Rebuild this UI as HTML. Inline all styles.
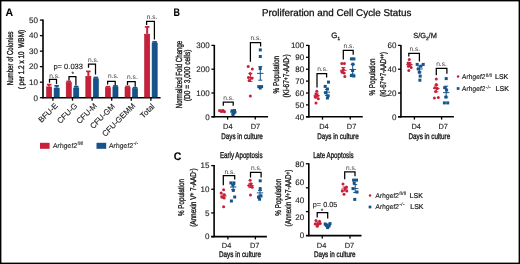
<!DOCTYPE html>
<html><head><meta charset="utf-8"><style>
html,body{margin:0;padding:0;background:#fff;}
svg{display:block;will-change:transform;}
text{font-family:"Liberation Sans", sans-serif;stroke:#1a1a1a;stroke-width:0.12px;paint-order:stroke;text-rendering:geometricPrecision;}
</style></head><body>
<svg width="520" height="264" viewBox="0 0 520 264">
<rect width="520" height="264" fill="#fff"/>
<text x="5.5" y="16.3" font-size="11" font-weight="bold" fill="#000" textLength="7.6" lengthAdjust="spacingAndGlyphs">A</text>
<line x1="43.0" y1="19.6" x2="43.0" y2="98.3" stroke="#000" stroke-width="1.6"/>
<line x1="42.4" y1="97.7" x2="160.6" y2="97.7" stroke="#000" stroke-width="1.6"/>
<line x1="39.9" y1="97.7" x2="43.0" y2="97.7" stroke="#000" stroke-width="1.3"/>
<text x="38.0" y="100.5" font-size="8.0" text-anchor="end" font-weight="normal" font-style="normal" fill="#1a1a1a" >0</text>
<line x1="39.9" y1="82.18" x2="43.0" y2="82.18" stroke="#000" stroke-width="1.3"/>
<text x="38.0" y="84.98" font-size="8.0" text-anchor="end" font-weight="normal" font-style="normal" fill="#1a1a1a" >10</text>
<line x1="39.9" y1="66.66" x2="43.0" y2="66.66" stroke="#000" stroke-width="1.3"/>
<text x="38.0" y="69.46" font-size="8.0" text-anchor="end" font-weight="normal" font-style="normal" fill="#1a1a1a" >20</text>
<line x1="39.9" y1="51.14" x2="43.0" y2="51.14" stroke="#000" stroke-width="1.3"/>
<text x="38.0" y="53.94" font-size="8.0" text-anchor="end" font-weight="normal" font-style="normal" fill="#1a1a1a" >30</text>
<line x1="39.9" y1="35.620000000000005" x2="43.0" y2="35.620000000000005" stroke="#000" stroke-width="1.3"/>
<text x="38.0" y="38.42" font-size="8.0" text-anchor="end" font-weight="normal" font-style="normal" fill="#1a1a1a" >40</text>
<line x1="39.9" y1="20.10000000000001" x2="43.0" y2="20.10000000000001" stroke="#000" stroke-width="1.3"/>
<text x="38.0" y="22.9" font-size="8.0" text-anchor="end" font-weight="normal" font-style="normal" fill="#1a1a1a" >50</text>
<line x1="52.9" y1="97.7" x2="52.9" y2="100.7" stroke="#000" stroke-width="1.3"/>
<line x1="72.5" y1="97.7" x2="72.5" y2="100.7" stroke="#000" stroke-width="1.3"/>
<line x1="92.1" y1="97.7" x2="92.1" y2="100.7" stroke="#000" stroke-width="1.3"/>
<line x1="111.7" y1="97.7" x2="111.7" y2="100.7" stroke="#000" stroke-width="1.3"/>
<line x1="131.3" y1="97.7" x2="131.3" y2="100.7" stroke="#000" stroke-width="1.3"/>
<line x1="150.9" y1="97.7" x2="150.9" y2="100.7" stroke="#000" stroke-width="1.3"/>
<rect x="46.60" y="86.90" width="5.10" height="10.20" fill="#c8203a" stroke="#b01a30" stroke-width="0.6"/>
<line x1="49.15" y1="84.6" x2="49.15" y2="86.6" stroke="#c8203a" stroke-width="2.0"/>
<line x1="46.85" y1="84.6" x2="51.449999999999996" y2="84.6" stroke="#c8203a" stroke-width="1.7"/>
<rect x="54.10" y="88.00" width="5.10" height="9.10" fill="#15538a" stroke="#0f4478" stroke-width="0.6"/>
<line x1="56.65" y1="85.8" x2="56.65" y2="87.7" stroke="#15538a" stroke-width="2.0"/>
<line x1="54.35" y1="85.8" x2="58.949999999999996" y2="85.8" stroke="#15538a" stroke-width="1.7"/>
<rect x="66.20" y="82.50" width="5.10" height="14.60" fill="#c8203a" stroke="#b01a30" stroke-width="0.6"/>
<line x1="68.75" y1="81.4" x2="68.75" y2="82.2" stroke="#c8203a" stroke-width="2.0"/>
<line x1="66.45" y1="81.4" x2="71.05" y2="81.4" stroke="#c8203a" stroke-width="1.7"/>
<rect x="73.70" y="87.90" width="5.10" height="9.20" fill="#15538a" stroke="#0f4478" stroke-width="0.6"/>
<line x1="76.25" y1="86.6" x2="76.25" y2="87.6" stroke="#15538a" stroke-width="2.0"/>
<line x1="73.95" y1="86.6" x2="78.55" y2="86.6" stroke="#15538a" stroke-width="1.7"/>
<rect x="85.80" y="76.30" width="5.10" height="20.80" fill="#c8203a" stroke="#b01a30" stroke-width="0.6"/>
<line x1="88.35" y1="71.4" x2="88.35" y2="76.0" stroke="#c8203a" stroke-width="2.0"/>
<line x1="86.05" y1="71.4" x2="90.64999999999999" y2="71.4" stroke="#c8203a" stroke-width="1.7"/>
<rect x="93.30" y="78.70" width="5.10" height="18.40" fill="#15538a" stroke="#0f4478" stroke-width="0.6"/>
<line x1="95.85" y1="77.5" x2="95.85" y2="78.4" stroke="#15538a" stroke-width="2.0"/>
<line x1="93.55" y1="77.5" x2="98.14999999999999" y2="77.5" stroke="#15538a" stroke-width="1.7"/>
<rect x="105.40" y="87.70" width="5.10" height="9.40" fill="#c8203a" stroke="#b01a30" stroke-width="0.6"/>
<line x1="107.95" y1="86.7" x2="107.95" y2="87.4" stroke="#c8203a" stroke-width="2.0"/>
<line x1="105.65" y1="86.7" x2="110.25" y2="86.7" stroke="#c8203a" stroke-width="1.7"/>
<rect x="112.90" y="86.80" width="5.10" height="10.30" fill="#15538a" stroke="#0f4478" stroke-width="0.6"/>
<line x1="115.45" y1="85.9" x2="115.45" y2="86.5" stroke="#15538a" stroke-width="2.0"/>
<line x1="113.15" y1="85.9" x2="117.75" y2="85.9" stroke="#15538a" stroke-width="1.7"/>
<rect x="125.00" y="87.30" width="5.10" height="9.80" fill="#c8203a" stroke="#b01a30" stroke-width="0.6"/>
<line x1="127.55000000000001" y1="86.4" x2="127.55000000000001" y2="87.0" stroke="#c8203a" stroke-width="2.0"/>
<line x1="125.25000000000001" y1="86.4" x2="129.85000000000002" y2="86.4" stroke="#c8203a" stroke-width="1.7"/>
<rect x="132.50" y="88.70" width="5.10" height="8.40" fill="#15538a" stroke="#0f4478" stroke-width="0.6"/>
<line x1="135.05" y1="87.7" x2="135.05" y2="88.4" stroke="#15538a" stroke-width="2.0"/>
<line x1="132.75" y1="87.7" x2="137.35000000000002" y2="87.7" stroke="#15538a" stroke-width="1.7"/>
<rect x="144.60" y="34.20" width="5.10" height="62.90" fill="#c8203a" stroke="#b01a30" stroke-width="0.6"/>
<line x1="147.15" y1="26.9" x2="147.15" y2="33.9" stroke="#c8203a" stroke-width="2.0"/>
<line x1="144.85" y1="26.9" x2="149.45000000000002" y2="26.9" stroke="#c8203a" stroke-width="1.7"/>
<rect x="152.10" y="42.90" width="5.10" height="54.20" fill="#15538a" stroke="#0f4478" stroke-width="0.6"/>
<line x1="154.65" y1="41.9" x2="154.65" y2="42.6" stroke="#15538a" stroke-width="2.0"/>
<line x1="152.35" y1="41.9" x2="156.95000000000002" y2="41.9" stroke="#15538a" stroke-width="1.7"/>
<path d="M49.5 82.7 V79.3 H56.5 V83.9" fill="none" stroke="#000" stroke-width="1.25" stroke-linejoin="miter" stroke-linecap="butt"/>
<path d="M69.0 80.5 V76.5 H75.9 V85.5" fill="none" stroke="#000" stroke-width="1.25" stroke-linejoin="miter" stroke-linecap="butt"/>
<path d="M88.5 67.8 V64.2 H95.5 V74.6" fill="none" stroke="#000" stroke-width="1.25" stroke-linejoin="miter" stroke-linecap="butt"/>
<path d="M107.6 84.5 V81.4 H115.2 V85.0" fill="none" stroke="#000" stroke-width="1.25" stroke-linejoin="miter" stroke-linecap="butt"/>
<path d="M127.5 85.0 V81.6 H135.2 V86.8" fill="none" stroke="#000" stroke-width="1.25" stroke-linejoin="miter" stroke-linecap="butt"/>
<path d="M146.6 25.0 V21.3 H154.4 V39.6" fill="none" stroke="#000" stroke-width="1.25" stroke-linejoin="miter" stroke-linecap="butt"/>
<text x="49.2" y="77.6" font-size="6.6" text-anchor="start" font-weight="normal" font-style="normal" fill="#3a3a3a" style="stroke-width:0">n.s.</text>
<text x="88.0" y="62.2" font-size="6.6" text-anchor="start" font-weight="normal" font-style="normal" fill="#3a3a3a" style="stroke-width:0">n.s.</text>
<text x="107.9" y="78.4" font-size="6.6" text-anchor="start" font-weight="normal" font-style="normal" fill="#3a3a3a" style="stroke-width:0">n.s.</text>
<text x="127.1" y="78.6" font-size="6.6" text-anchor="start" font-weight="normal" font-style="normal" fill="#3a3a3a" style="stroke-width:0">n.s.</text>
<text x="146.7" y="18.6" font-size="6.6" text-anchor="start" font-weight="normal" font-style="normal" fill="#3a3a3a" style="stroke-width:0">n.s.</text>
<text x="72.7" y="76.4" font-size="6.5" text-anchor="middle" font-weight="normal" font-style="normal" fill="#1a1a1a" >*</text>
<text x="53.4" y="69.0" font-size="7.55" text-anchor="start" font-weight="normal" font-style="normal" fill="#1a1a1a" >p= 0.033</text>
<text transform="translate(58.30,106.30) rotate(-45)" font-size="7.9" text-anchor="end" fill="#1a1a1a">BFU-E</text>
<text transform="translate(77.90,106.30) rotate(-45)" font-size="7.9" text-anchor="end" fill="#1a1a1a">CFU-G</text>
<text transform="translate(97.50,106.30) rotate(-45)" font-size="7.9" text-anchor="end" fill="#1a1a1a">CFU-M</text>
<text transform="translate(115.50,106.90) rotate(-45)" font-size="7.9" text-anchor="end" fill="#1a1a1a">CFU-GM</text>
<text transform="translate(135.90,106.30) rotate(-45)" font-size="7.9" text-anchor="end" fill="#1a1a1a">CFU-GEMM</text>
<text transform="translate(155.10,106.90) rotate(-45)" font-size="7.9" text-anchor="end" fill="#1a1a1a">Total</text>
<text transform="translate(12.6,58.3) rotate(-90)" x="0" y="0" font-size="8.6" text-anchor="middle" textLength="53.8" lengthAdjust="spacingAndGlyphs" fill="#1a1a1a" style="stroke-width:0.36px" >Number of Colonies</text>
<text transform="translate(23.6,59.6) rotate(-90)" x="0" y="0" font-size="8.2" text-anchor="middle" textLength="59.5" lengthAdjust="spacingAndGlyphs" fill="#1a1a1a" style="stroke-width:0.36px" >( per 1.2 x 10&#160;&#160;WBM)</text>
<rect x="40" y="142.8" width="9.6" height="6" fill="#c8203a"/>
<rect x="96.5" y="142.8" width="9.7" height="6" fill="#15538a"/>
<text transform="translate(52.7,148.1) skewX(-4)" font-size="7.0" textLength="24.3" lengthAdjust="spacingAndGlyphs" fill="#1a1a1a" style="stroke-width:0.12px">Arhgef2</text>
<text x="77.40" y="145.20" font-size="4.8" textLength="5.9" lengthAdjust="spacingAndGlyphs" fill="#1a1a1a" style="stroke-width:0.08px">fl/fl</text>
<text transform="translate(108.7,148.1) skewX(-4)" font-size="7.0" textLength="24.3" lengthAdjust="spacingAndGlyphs" fill="#1a1a1a" style="stroke-width:0.12px">Arhgef2</text>
<text x="133.40" y="145.20" font-size="4.8" textLength="4.8" lengthAdjust="spacingAndGlyphs" fill="#1a1a1a" style="stroke-width:0.08px">-/-</text>
<text x="173.6" y="16.3" font-size="11" font-weight="bold" fill="#000" textLength="6.4" lengthAdjust="spacingAndGlyphs">B</text>
<text x="262.0" y="15.6" font-size="9.85" text-anchor="start" font-weight="normal" font-style="normal" fill="#111" style="stroke:#111;stroke-width:0.28px">Proliferation and Cell Cycle Status</text>
<line x1="214.3" y1="44.9" x2="214.3" y2="117.39999999999999" stroke="#000" stroke-width="1.6"/>
<line x1="211.4" y1="116.8" x2="268.1" y2="116.8" stroke="#000" stroke-width="1.6"/>
<line x1="211.4" y1="45.4" x2="214.3" y2="45.4" stroke="#000" stroke-width="1.3"/>
<text x="209.70000000000002" y="48.2" font-size="8.0" text-anchor="end" font-weight="normal" font-style="normal" fill="#1a1a1a" >300</text>
<line x1="211.4" y1="69.2" x2="214.3" y2="69.2" stroke="#000" stroke-width="1.3"/>
<text x="209.70000000000002" y="72.0" font-size="8.0" text-anchor="end" font-weight="normal" font-style="normal" fill="#1a1a1a" >200</text>
<line x1="211.4" y1="93.0" x2="214.3" y2="93.0" stroke="#000" stroke-width="1.3"/>
<text x="209.70000000000002" y="95.8" font-size="8.0" text-anchor="end" font-weight="normal" font-style="normal" fill="#1a1a1a" >100</text>
<line x1="211.4" y1="116.80000000000001" x2="214.3" y2="116.80000000000001" stroke="#000" stroke-width="1.3"/>
<text x="209.70000000000002" y="119.6" font-size="8.0" text-anchor="end" font-weight="normal" font-style="normal" fill="#1a1a1a" >0</text>
<line x1="227.6" y1="116.8" x2="227.6" y2="119.6" stroke="#000" stroke-width="1.3"/>
<line x1="255.25" y1="116.8" x2="255.25" y2="119.6" stroke="#000" stroke-width="1.3"/>
<text x="227.8" y="128.9" font-size="7.4" text-anchor="middle" font-weight="normal" font-style="normal" fill="#1a1a1a" >D4</text>
<text x="255.5" y="128.9" font-size="7.4" text-anchor="middle" font-weight="normal" font-style="normal" fill="#1a1a1a" >D7</text>
<text x="242.0" y="138.8" font-size="8.2" text-anchor="middle" textLength="41.5" lengthAdjust="spacingAndGlyphs" fill="#1a1a1a" style="stroke-width:0.36px">Days in culture</text>
<text transform="translate(181.6,74.5) rotate(-90)" x="0" y="0" font-size="8.8" text-anchor="middle" textLength="67.5" lengthAdjust="spacingAndGlyphs" fill="#1a1a1a" style="stroke-width:0.36px" >Normalized Fold Change</text>
<text transform="translate(190.3,75.4) rotate(-90)" x="0" y="0" font-size="8.4" text-anchor="middle" textLength="51.8" lengthAdjust="spacingAndGlyphs" fill="#1a1a1a" style="stroke-width:0.36px" >(D0 = 3,000 cells)</text>
<line x1="218.8" y1="111.0" x2="225.2" y2="111.0" stroke="#c8203a" stroke-width="1.0"/>
<line x1="222.0" y1="110.0" x2="222.0" y2="112.0" stroke="#c8203a" stroke-width="1.0"/>
<line x1="220.0" y1="110.0" x2="224.0" y2="110.0" stroke="#c8203a" stroke-width="1.0"/>
<line x1="220.0" y1="112.0" x2="224.0" y2="112.0" stroke="#c8203a" stroke-width="1.0"/>
<circle cx="219.5" cy="110.6" r="1.5" fill="#c8203a"/>
<circle cx="221.5" cy="111.4" r="1.5" fill="#c8203a"/>
<circle cx="223.0" cy="110.4" r="1.5" fill="#c8203a"/>
<circle cx="224.5" cy="111.8" r="1.5" fill="#c8203a"/>
<rect x="230.50" y="109.50" width="3.0" height="3.0" fill="#15538a"/>
<rect x="233.00" y="109.10" width="3.0" height="3.0" fill="#15538a"/>
<rect x="231.80" y="111.50" width="3.0" height="3.0" fill="#15538a"/>
<rect x="231.50" y="113.10" width="3.0" height="3.0" fill="#15538a"/>
<rect x="233.30" y="110.70" width="3.0" height="3.0" fill="#15538a"/>
<line x1="230.10000000000002" y1="112.0" x2="236.5" y2="112.0" stroke="#15538a" stroke-width="1.0"/>
<line x1="233.3" y1="110.0" x2="233.3" y2="114.0" stroke="#15538a" stroke-width="1.0"/>
<line x1="231.3" y1="110.0" x2="235.3" y2="110.0" stroke="#15538a" stroke-width="1.0"/>
<line x1="231.3" y1="114.0" x2="235.3" y2="114.0" stroke="#15538a" stroke-width="1.0"/>
<path d="M223.3 105.7 V102.0 H233.2 V105.7" fill="none" stroke="#000" stroke-width="1.25" stroke-linejoin="miter" stroke-linecap="butt"/>
<text x="223.3" y="99.7" font-size="6.6" text-anchor="start" font-weight="normal" font-style="normal" fill="#3a3a3a" style="stroke-width:0">n.s.</text>
<circle cx="248.2" cy="66.6" r="1.5" fill="#c8203a"/>
<circle cx="252.3" cy="68.9" r="1.5" fill="#c8203a"/>
<circle cx="250.2" cy="73.6" r="1.5" fill="#c8203a"/>
<circle cx="248.5" cy="77.6" r="1.5" fill="#c8203a"/>
<circle cx="251.9" cy="78.2" r="1.5" fill="#c8203a"/>
<circle cx="249.1" cy="80.5" r="1.5" fill="#c8203a"/>
<circle cx="250.3" cy="95.9" r="1.5" fill="#c8203a"/>
<line x1="247.20000000000002" y1="77.4" x2="253.6" y2="77.4" stroke="#c8203a" stroke-width="1.0"/>
<line x1="250.4" y1="73.6" x2="250.4" y2="81.4" stroke="#c8203a" stroke-width="1.0"/>
<line x1="248.4" y1="73.6" x2="252.4" y2="73.6" stroke="#c8203a" stroke-width="1.0"/>
<line x1="248.4" y1="81.4" x2="252.4" y2="81.4" stroke="#c8203a" stroke-width="1.0"/>
<rect x="258.80" y="48.40" width="3.0" height="3.0" fill="#15538a"/>
<rect x="258.80" y="55.00" width="3.0" height="3.0" fill="#15538a"/>
<rect x="258.70" y="67.00" width="3.0" height="3.0" fill="#15538a"/>
<rect x="257.30" y="85.10" width="3.0" height="3.0" fill="#15538a"/>
<rect x="260.10" y="85.10" width="3.0" height="3.0" fill="#15538a"/>
<rect x="258.70" y="86.50" width="3.0" height="3.0" fill="#15538a"/>
<line x1="257.1" y1="73.4" x2="263.5" y2="73.4" stroke="#15538a" stroke-width="1.0"/>
<line x1="260.3" y1="66.6" x2="260.3" y2="80.2" stroke="#15538a" stroke-width="1.0"/>
<line x1="258.3" y1="66.6" x2="262.3" y2="66.6" stroke="#15538a" stroke-width="1.0"/>
<line x1="258.3" y1="80.2" x2="262.3" y2="80.2" stroke="#15538a" stroke-width="1.0"/>
<path d="M250.4 61.8 V42.7 H260.6 V46.5" fill="none" stroke="#000" stroke-width="1.25" stroke-linejoin="miter" stroke-linecap="butt"/>
<text x="250.4" y="40.3" font-size="6.6" text-anchor="start" font-weight="normal" font-style="normal" fill="#3a3a3a" style="stroke-width:0">n.s.</text>
<line x1="308.85" y1="44.9" x2="308.85" y2="117.39999999999999" stroke="#000" stroke-width="1.6"/>
<line x1="305.95000000000005" y1="116.8" x2="362.75" y2="116.8" stroke="#000" stroke-width="1.6"/>
<line x1="305.95000000000005" y1="45.4" x2="308.85" y2="45.4" stroke="#000" stroke-width="1.3"/>
<text x="304.25" y="48.2" font-size="8.0" text-anchor="end" font-weight="normal" font-style="normal" fill="#1a1a1a" >100</text>
<line x1="305.95000000000005" y1="57.3" x2="308.85" y2="57.3" stroke="#000" stroke-width="1.3"/>
<text x="304.25" y="60.1" font-size="8.0" text-anchor="end" font-weight="normal" font-style="normal" fill="#1a1a1a" >90</text>
<line x1="305.95000000000005" y1="69.2" x2="308.85" y2="69.2" stroke="#000" stroke-width="1.3"/>
<text x="304.25" y="72.0" font-size="8.0" text-anchor="end" font-weight="normal" font-style="normal" fill="#1a1a1a" >80</text>
<line x1="305.95000000000005" y1="81.1" x2="308.85" y2="81.1" stroke="#000" stroke-width="1.3"/>
<text x="304.25" y="83.9" font-size="8.0" text-anchor="end" font-weight="normal" font-style="normal" fill="#1a1a1a" >70</text>
<line x1="305.95000000000005" y1="93.0" x2="308.85" y2="93.0" stroke="#000" stroke-width="1.3"/>
<text x="304.25" y="95.8" font-size="8.0" text-anchor="end" font-weight="normal" font-style="normal" fill="#1a1a1a" >60</text>
<line x1="305.95000000000005" y1="104.9" x2="308.85" y2="104.9" stroke="#000" stroke-width="1.3"/>
<text x="304.25" y="107.7" font-size="8.0" text-anchor="end" font-weight="normal" font-style="normal" fill="#1a1a1a" >50</text>
<line x1="305.95000000000005" y1="116.80000000000001" x2="308.85" y2="116.80000000000001" stroke="#000" stroke-width="1.3"/>
<text x="304.25" y="119.6" font-size="8.0" text-anchor="end" font-weight="normal" font-style="normal" fill="#1a1a1a" >40</text>
<line x1="322.5" y1="116.8" x2="322.5" y2="119.6" stroke="#000" stroke-width="1.3"/>
<line x1="350.25" y1="116.8" x2="350.25" y2="119.6" stroke="#000" stroke-width="1.3"/>
<text x="323.9" y="128.9" font-size="7.4" text-anchor="middle" font-weight="normal" font-style="normal" fill="#1a1a1a" >D4</text>
<text x="351.6" y="128.9" font-size="7.4" text-anchor="middle" font-weight="normal" font-style="normal" fill="#1a1a1a" >D7</text>
<text x="337.9" y="138.8" font-size="8.2" text-anchor="middle" textLength="41.5" lengthAdjust="spacingAndGlyphs" fill="#1a1a1a" style="stroke-width:0.36px">Days in culture</text>
<text x="331.3" y="37.7" font-size="7.8" text-anchor="start" font-weight="normal" font-style="normal" fill="#1a1a1a" style="stroke-width:0.3px">G<tspan font-size="4.6" dy="1.8">1</tspan></text>
<text transform="translate(278.6,74.7) rotate(-90)" x="0" y="0" font-size="8.4" text-anchor="middle" textLength="37.6" lengthAdjust="spacingAndGlyphs" fill="#1a1a1a" style="stroke-width:0.36px" >% Population</text>
<text transform="translate(289.2,75.9) rotate(-90)" x="0" y="0" font-size="8.4" text-anchor="middle" textLength="43.4" lengthAdjust="spacingAndGlyphs" fill="#1a1a1a" style="stroke-width:0.36px" >(Ki-67<tspan font-size="6.4" dy="-1.6">+</tspan><tspan dy="1.6">7-AAD</tspan><tspan font-size="6.4" dy="-1.6">-</tspan><tspan dy="1.6">)</tspan></text>
<circle cx="316.8" cy="91.2" r="1.5" fill="#c8203a"/>
<circle cx="316.0" cy="94.2" r="1.5" fill="#c8203a"/>
<circle cx="317.6" cy="95.5" r="1.5" fill="#c8203a"/>
<circle cx="315.3" cy="97.0" r="1.5" fill="#c8203a"/>
<circle cx="318.3" cy="98.8" r="1.5" fill="#c8203a"/>
<circle cx="316.0" cy="103.0" r="1.5" fill="#c8203a"/>
<line x1="313.40000000000003" y1="95.8" x2="319.8" y2="95.8" stroke="#c8203a" stroke-width="1.0"/>
<line x1="316.6" y1="93.2" x2="316.6" y2="98.0" stroke="#c8203a" stroke-width="1.0"/>
<line x1="314.6" y1="93.2" x2="318.6" y2="93.2" stroke="#c8203a" stroke-width="1.0"/>
<line x1="314.6" y1="98.0" x2="318.6" y2="98.0" stroke="#c8203a" stroke-width="1.0"/>
<rect x="327.00" y="80.60" width="3.0" height="3.0" fill="#15538a"/>
<rect x="323.70" y="84.90" width="3.0" height="3.0" fill="#15538a"/>
<rect x="325.90" y="87.50" width="3.0" height="3.0" fill="#15538a"/>
<rect x="324.10" y="91.20" width="3.0" height="3.0" fill="#15538a"/>
<rect x="326.70" y="94.30" width="3.0" height="3.0" fill="#15538a"/>
<rect x="325.90" y="96.50" width="3.0" height="3.0" fill="#15538a"/>
<line x1="323.7" y1="92.2" x2="330.09999999999997" y2="92.2" stroke="#15538a" stroke-width="1.0"/>
<line x1="326.9" y1="89.4" x2="326.9" y2="95.4" stroke="#15538a" stroke-width="1.0"/>
<line x1="324.9" y1="89.4" x2="328.9" y2="89.4" stroke="#15538a" stroke-width="1.0"/>
<line x1="324.9" y1="95.4" x2="328.9" y2="95.4" stroke="#15538a" stroke-width="1.0"/>
<path d="M317.0 87.4 V73.7 H326.6 V77.6" fill="none" stroke="#000" stroke-width="1.25" stroke-linejoin="miter" stroke-linecap="butt"/>
<text x="317.2" y="70.5" font-size="6.6" text-anchor="start" font-weight="normal" font-style="normal" fill="#3a3a3a" style="stroke-width:0">n.s.</text>
<circle cx="341.8" cy="63.5" r="1.5" fill="#c8203a"/>
<circle cx="344.4" cy="63.5" r="1.5" fill="#c8203a"/>
<circle cx="343.3" cy="69.5" r="1.5" fill="#c8203a"/>
<circle cx="341.8" cy="71.8" r="1.5" fill="#c8203a"/>
<circle cx="344.1" cy="73.0" r="1.5" fill="#c8203a"/>
<circle cx="344.8" cy="76.4" r="1.5" fill="#c8203a"/>
<line x1="340.1" y1="70.3" x2="346.5" y2="70.3" stroke="#c8203a" stroke-width="1.0"/>
<line x1="343.3" y1="67.6" x2="343.3" y2="73.4" stroke="#c8203a" stroke-width="1.0"/>
<line x1="341.3" y1="67.6" x2="345.3" y2="67.6" stroke="#c8203a" stroke-width="1.0"/>
<line x1="341.3" y1="73.4" x2="345.3" y2="73.4" stroke="#c8203a" stroke-width="1.0"/>
<rect x="349.90" y="57.40" width="3.0" height="3.0" fill="#15538a"/>
<rect x="352.40" y="57.40" width="3.0" height="3.0" fill="#15538a"/>
<rect x="351.40" y="62.70" width="3.0" height="3.0" fill="#15538a"/>
<rect x="349.90" y="74.10" width="3.0" height="3.0" fill="#15538a"/>
<rect x="352.40" y="74.50" width="3.0" height="3.0" fill="#15538a"/>
<rect x="351.10" y="69.00" width="3.0" height="3.0" fill="#15538a"/>
<line x1="349.5" y1="69.5" x2="355.9" y2="69.5" stroke="#15538a" stroke-width="1.0"/>
<line x1="352.7" y1="64.4" x2="352.7" y2="74.2" stroke="#15538a" stroke-width="1.0"/>
<line x1="350.7" y1="64.4" x2="354.7" y2="64.4" stroke="#15538a" stroke-width="1.0"/>
<line x1="350.7" y1="74.2" x2="354.7" y2="74.2" stroke="#15538a" stroke-width="1.0"/>
<path d="M343.3 59.4 V50.3 H353.2 V54.8" fill="none" stroke="#000" stroke-width="1.25" stroke-linejoin="miter" stroke-linecap="butt"/>
<text x="343.6" y="48.3" font-size="6.6" text-anchor="start" font-weight="normal" font-style="normal" fill="#3a3a3a" style="stroke-width:0">n.s.</text>
<line x1="400.95" y1="44.9" x2="400.95" y2="117.39999999999999" stroke="#000" stroke-width="1.6"/>
<line x1="398.05" y1="116.8" x2="453.9" y2="116.8" stroke="#000" stroke-width="1.6"/>
<line x1="398.05" y1="45.4" x2="400.95" y2="45.4" stroke="#000" stroke-width="1.3"/>
<text x="396.34999999999997" y="48.2" font-size="8.0" text-anchor="end" font-weight="normal" font-style="normal" fill="#1a1a1a" >60</text>
<line x1="398.05" y1="69.2" x2="400.95" y2="69.2" stroke="#000" stroke-width="1.3"/>
<text x="396.34999999999997" y="72.0" font-size="8.0" text-anchor="end" font-weight="normal" font-style="normal" fill="#1a1a1a" >40</text>
<line x1="398.05" y1="93.0" x2="400.95" y2="93.0" stroke="#000" stroke-width="1.3"/>
<text x="396.34999999999997" y="95.8" font-size="8.0" text-anchor="end" font-weight="normal" font-style="normal" fill="#1a1a1a" >20</text>
<line x1="398.05" y1="116.80000000000001" x2="400.95" y2="116.80000000000001" stroke="#000" stroke-width="1.3"/>
<text x="396.34999999999997" y="119.6" font-size="8.0" text-anchor="end" font-weight="normal" font-style="normal" fill="#1a1a1a" >0</text>
<line x1="414.4" y1="116.8" x2="414.4" y2="119.6" stroke="#000" stroke-width="1.3"/>
<line x1="441.6" y1="116.8" x2="441.6" y2="119.6" stroke="#000" stroke-width="1.3"/>
<text x="416.2" y="128.9" font-size="7.4" text-anchor="middle" font-weight="normal" font-style="normal" fill="#1a1a1a" >D4</text>
<text x="443.2" y="128.9" font-size="7.4" text-anchor="middle" font-weight="normal" font-style="normal" fill="#1a1a1a" >D7</text>
<text x="429.3" y="138.8" font-size="8.2" text-anchor="middle" textLength="41.8" lengthAdjust="spacingAndGlyphs" fill="#1a1a1a" style="stroke-width:0.36px">Days in culture</text>
<text x="413.3" y="38.2" font-size="7.4" text-anchor="start" font-weight="normal" font-style="normal" fill="#1a1a1a" style="stroke-width:0.25px">S/G<tspan font-size="4.6" dy="1.8">2</tspan><tspan dy="-1.8">/M</tspan></text>
<text transform="translate(375.0,77.1) rotate(-90)" x="0" y="0" font-size="8.4" text-anchor="middle" textLength="37.0" lengthAdjust="spacingAndGlyphs" fill="#1a1a1a" style="stroke-width:0.36px" >% Population</text>
<text transform="translate(385.5,74.4) rotate(-90)" x="0" y="0" font-size="8.4" text-anchor="middle" textLength="44.8" lengthAdjust="spacingAndGlyphs" fill="#1a1a1a" style="stroke-width:0.36px" >(Ki-67<tspan font-size="6.0" dy="-1.6">++</tspan><tspan dy="1.6">7-AAD</tspan><tspan font-size="6.0" dy="-1.6">++</tspan><tspan dy="1.6">)</tspan></text>
<circle cx="409.3" cy="59.4" r="1.5" fill="#c8203a"/>
<circle cx="408.1" cy="62.9" r="1.5" fill="#c8203a"/>
<circle cx="410.3" cy="64.4" r="1.5" fill="#c8203a"/>
<circle cx="408.4" cy="66.2" r="1.5" fill="#c8203a"/>
<circle cx="411.1" cy="67.4" r="1.5" fill="#c8203a"/>
<circle cx="408.8" cy="70.5" r="1.5" fill="#c8203a"/>
<line x1="406.2" y1="64.6" x2="412.59999999999997" y2="64.6" stroke="#c8203a" stroke-width="1.0"/>
<line x1="409.4" y1="62.6" x2="409.4" y2="66.6" stroke="#c8203a" stroke-width="1.0"/>
<line x1="407.4" y1="62.6" x2="411.4" y2="62.6" stroke="#c8203a" stroke-width="1.0"/>
<line x1="407.4" y1="66.6" x2="411.4" y2="66.6" stroke="#c8203a" stroke-width="1.0"/>
<rect x="415.70" y="62.90" width="3.0" height="3.0" fill="#15538a"/>
<rect x="421.70" y="62.90" width="3.0" height="3.0" fill="#15538a"/>
<rect x="419.40" y="64.70" width="3.0" height="3.0" fill="#15538a"/>
<rect x="416.90" y="67.40" width="3.0" height="3.0" fill="#15538a"/>
<rect x="417.90" y="70.80" width="3.0" height="3.0" fill="#15538a"/>
<rect x="418.70" y="74.60" width="3.0" height="3.0" fill="#15538a"/>
<rect x="418.40" y="78.70" width="3.0" height="3.0" fill="#15538a"/>
<line x1="416.40000000000003" y1="69.0" x2="422.8" y2="69.0" stroke="#15538a" stroke-width="1.0"/>
<line x1="419.6" y1="66.0" x2="419.6" y2="72.0" stroke="#15538a" stroke-width="1.0"/>
<line x1="417.6" y1="66.0" x2="421.6" y2="66.0" stroke="#15538a" stroke-width="1.0"/>
<line x1="417.6" y1="72.0" x2="421.6" y2="72.0" stroke="#15538a" stroke-width="1.0"/>
<path d="M408.8 56.4 V53.3 H419.4 V61.4" fill="none" stroke="#000" stroke-width="1.25" stroke-linejoin="miter" stroke-linecap="butt"/>
<text x="409.4" y="50.8" font-size="6.6" text-anchor="start" font-weight="normal" font-style="normal" fill="#3a3a3a" style="stroke-width:0">n.s.</text>
<circle cx="436.3" cy="78.9" r="1.5" fill="#c8203a"/>
<circle cx="436.3" cy="84.4" r="1.5" fill="#c8203a"/>
<circle cx="434.8" cy="87.7" r="1.5" fill="#c8203a"/>
<circle cx="437.4" cy="88.5" r="1.5" fill="#c8203a"/>
<circle cx="435.6" cy="91.5" r="1.5" fill="#c8203a"/>
<circle cx="434.4" cy="98.0" r="1.5" fill="#c8203a"/>
<circle cx="438.3" cy="97.6" r="1.5" fill="#c8203a"/>
<line x1="433.1" y1="88.5" x2="439.5" y2="88.5" stroke="#c8203a" stroke-width="1.0"/>
<line x1="436.3" y1="85.2" x2="436.3" y2="91.8" stroke="#c8203a" stroke-width="1.0"/>
<line x1="434.3" y1="85.2" x2="438.3" y2="85.2" stroke="#c8203a" stroke-width="1.0"/>
<line x1="434.3" y1="91.8" x2="438.3" y2="91.8" stroke="#c8203a" stroke-width="1.0"/>
<rect x="444.70" y="77.10" width="3.0" height="3.0" fill="#15538a"/>
<rect x="443.20" y="86.20" width="3.0" height="3.0" fill="#15538a"/>
<rect x="444.40" y="95.60" width="3.0" height="3.0" fill="#15538a"/>
<rect x="442.90" y="101.40" width="3.0" height="3.0" fill="#15538a"/>
<rect x="446.20" y="101.40" width="3.0" height="3.0" fill="#15538a"/>
<rect x="445.10" y="88.50" width="3.0" height="3.0" fill="#15538a"/>
<line x1="443.0" y1="92.6" x2="449.4" y2="92.6" stroke="#15538a" stroke-width="1.0"/>
<line x1="446.2" y1="86.2" x2="446.2" y2="97.1" stroke="#15538a" stroke-width="1.0"/>
<line x1="444.2" y1="86.2" x2="448.2" y2="86.2" stroke="#15538a" stroke-width="1.0"/>
<line x1="444.2" y1="97.1" x2="448.2" y2="97.1" stroke="#15538a" stroke-width="1.0"/>
<path d="M436.3 75.3 V68.3 H446.9 V73.8" fill="none" stroke="#000" stroke-width="1.25" stroke-linejoin="miter" stroke-linecap="butt"/>
<text x="436.2" y="66.0" font-size="6.6" text-anchor="start" font-weight="normal" font-style="normal" fill="#3a3a3a" style="stroke-width:0">n.s.</text>
<circle cx="458.1" cy="76.5" r="1.25" fill="#c8203a"/>
<rect x="456.75" y="87.15" width="2.7" height="2.7" fill="#15538a"/>
<text transform="translate(461.7,79.3) skewX(-4)" font-size="6.8" textLength="23.6" lengthAdjust="spacingAndGlyphs" fill="#1a1a1a" style="stroke-width:0.12px">Arhgef2</text>
<text x="485.70" y="77.40" font-size="4.8" textLength="6.4" lengthAdjust="spacingAndGlyphs" fill="#1a1a1a" style="stroke-width:0.08px">fl/fl</text>
<text x="495.0" y="79.3" font-size="7.0" fill="#1a1a1a" style="stroke-width:0.22px">LSK</text>
<text transform="translate(461.7,91.1) skewX(-4)" font-size="6.8" textLength="23.6" lengthAdjust="spacingAndGlyphs" fill="#1a1a1a" style="stroke-width:0.12px">Arhgef2</text>
<text x="485.70" y="88.70" font-size="4.8" textLength="5.0" lengthAdjust="spacingAndGlyphs" fill="#1a1a1a" style="stroke-width:0.08px">-/-</text>
<text x="495.6" y="91.1" font-size="7.0" fill="#1a1a1a" style="stroke-width:0.22px">LSK</text>
<text x="173.7" y="160.3" font-size="11" font-weight="bold" fill="#000" textLength="7.6" lengthAdjust="spacingAndGlyphs">C</text>
<text x="241.2" y="157.6" font-size="8.6" text-anchor="middle" textLength="42.6" lengthAdjust="spacingAndGlyphs" fill="#1a1a1a" style="stroke-width:0.36px">Early Apoptosis</text>
<text x="333.4" y="157.7" font-size="8.6" text-anchor="middle" textLength="40.4" lengthAdjust="spacingAndGlyphs" fill="#1a1a1a" style="stroke-width:0.36px">Late Apoptosis</text>
<line x1="214.1" y1="165.1" x2="214.1" y2="237.2" stroke="#000" stroke-width="1.6"/>
<line x1="211.2" y1="236.6" x2="266.9" y2="236.6" stroke="#000" stroke-width="1.6"/>
<line x1="211.2" y1="165.6" x2="214.1" y2="165.6" stroke="#000" stroke-width="1.3"/>
<text x="209.5" y="168.4" font-size="8.0" text-anchor="end" font-weight="normal" font-style="normal" fill="#1a1a1a" >15</text>
<line x1="211.2" y1="189.26666666666665" x2="214.1" y2="189.26666666666665" stroke="#000" stroke-width="1.3"/>
<text x="209.5" y="192.07" font-size="8.0" text-anchor="end" font-weight="normal" font-style="normal" fill="#1a1a1a" >10</text>
<line x1="211.2" y1="212.93333333333334" x2="214.1" y2="212.93333333333334" stroke="#000" stroke-width="1.3"/>
<text x="209.5" y="215.73" font-size="8.0" text-anchor="end" font-weight="normal" font-style="normal" fill="#1a1a1a" >5</text>
<line x1="211.2" y1="236.6" x2="214.1" y2="236.6" stroke="#000" stroke-width="1.3"/>
<text x="209.5" y="239.4" font-size="8.0" text-anchor="end" font-weight="normal" font-style="normal" fill="#1a1a1a" >0</text>
<line x1="227.9" y1="236.6" x2="227.9" y2="239.4" stroke="#000" stroke-width="1.3"/>
<line x1="255.4" y1="236.6" x2="255.4" y2="239.4" stroke="#000" stroke-width="1.3"/>
<text x="226.6" y="247.9" font-size="7.4" text-anchor="middle" font-weight="normal" font-style="normal" fill="#1a1a1a" >D4</text>
<text x="254.7" y="247.9" font-size="7.4" text-anchor="middle" font-weight="normal" font-style="normal" fill="#1a1a1a" >D7</text>
<text x="240.0" y="257.3" font-size="8.2" text-anchor="middle" textLength="42.0" lengthAdjust="spacingAndGlyphs" fill="#1a1a1a" style="stroke-width:0.36px">Days in culture</text>
<text transform="translate(184.2,197.6) rotate(-90)" x="0" y="0" font-size="8.4" text-anchor="middle" textLength="37.0" lengthAdjust="spacingAndGlyphs" fill="#1a1a1a" style="stroke-width:0.36px" >% Population</text>
<text transform="translate(195.6,197.6) rotate(-90)" x="0" y="0" font-size="8.4" text-anchor="middle" textLength="58.5" lengthAdjust="spacingAndGlyphs" fill="#1a1a1a" style="stroke-width:0.36px" >(Annexin V<tspan font-size="6.4" dy="-1.6">+</tspan><tspan dy="1.6"> 7-AAD</tspan><tspan font-size="6.4" dy="-1.6">-</tspan><tspan dy="1.6">)</tspan></text>
<circle cx="223.6" cy="189.7" r="1.5" fill="#c8203a"/>
<circle cx="221.1" cy="193.0" r="1.5" fill="#c8203a"/>
<circle cx="224.4" cy="195.0" r="1.5" fill="#c8203a"/>
<circle cx="221.8" cy="197.0" r="1.5" fill="#c8203a"/>
<circle cx="224.1" cy="198.0" r="1.5" fill="#c8203a"/>
<circle cx="223.6" cy="206.8" r="1.5" fill="#c8203a"/>
<line x1="220.20000000000002" y1="196.0" x2="226.6" y2="196.0" stroke="#c8203a" stroke-width="1.0"/>
<line x1="223.4" y1="194.0" x2="223.4" y2="198.0" stroke="#c8203a" stroke-width="1.0"/>
<line x1="221.4" y1="194.0" x2="225.4" y2="194.0" stroke="#c8203a" stroke-width="1.0"/>
<line x1="221.4" y1="198.0" x2="225.4" y2="198.0" stroke="#c8203a" stroke-width="1.0"/>
<rect x="229.40" y="181.40" width="3.0" height="3.0" fill="#15538a"/>
<rect x="232.40" y="181.40" width="3.0" height="3.0" fill="#15538a"/>
<rect x="231.40" y="183.70" width="3.0" height="3.0" fill="#15538a"/>
<rect x="233.20" y="195.50" width="3.0" height="3.0" fill="#15538a"/>
<rect x="229.90" y="199.50" width="3.0" height="3.0" fill="#15538a"/>
<rect x="231.80" y="188.90" width="3.0" height="3.0" fill="#15538a"/>
<line x1="230.0" y1="187.0" x2="236.39999999999998" y2="187.0" stroke="#15538a" stroke-width="1.0"/>
<line x1="233.2" y1="184.4" x2="233.2" y2="189.6" stroke="#15538a" stroke-width="1.0"/>
<line x1="231.2" y1="184.4" x2="235.2" y2="184.4" stroke="#15538a" stroke-width="1.0"/>
<line x1="231.2" y1="189.6" x2="235.2" y2="189.6" stroke="#15538a" stroke-width="1.0"/>
<path d="M223.3 185.2 V175.6 H234.7 V179.6" fill="none" stroke="#000" stroke-width="1.25" stroke-linejoin="miter" stroke-linecap="butt"/>
<text x="224.4" y="174.4" font-size="6.6" text-anchor="start" font-weight="normal" font-style="normal" fill="#3a3a3a" style="stroke-width:0">n.s.</text>
<circle cx="250.1" cy="180.2" r="1.5" fill="#c8203a"/>
<circle cx="249.0" cy="185.5" r="1.5" fill="#c8203a"/>
<circle cx="252.2" cy="187.2" r="1.5" fill="#c8203a"/>
<circle cx="250.5" cy="195.0" r="1.5" fill="#c8203a"/>
<circle cx="251.0" cy="183.8" r="1.5" fill="#c8203a"/>
<line x1="247.3" y1="185.5" x2="253.7" y2="185.5" stroke="#c8203a" stroke-width="1.0"/>
<line x1="250.5" y1="183.4" x2="250.5" y2="187.6" stroke="#c8203a" stroke-width="1.0"/>
<line x1="248.5" y1="183.4" x2="252.5" y2="183.4" stroke="#c8203a" stroke-width="1.0"/>
<line x1="248.5" y1="187.6" x2="252.5" y2="187.6" stroke="#c8203a" stroke-width="1.0"/>
<rect x="258.70" y="179.30" width="3.0" height="3.0" fill="#15538a"/>
<rect x="258.70" y="187.10" width="3.0" height="3.0" fill="#15538a"/>
<rect x="257.00" y="195.60" width="3.0" height="3.0" fill="#15538a"/>
<rect x="258.10" y="197.70" width="3.0" height="3.0" fill="#15538a"/>
<rect x="259.50" y="194.50" width="3.0" height="3.0" fill="#15538a"/>
<line x1="256.8" y1="192.9" x2="263.2" y2="192.9" stroke="#15538a" stroke-width="1.0"/>
<line x1="260.0" y1="190.6" x2="260.0" y2="195.2" stroke="#15538a" stroke-width="1.0"/>
<line x1="258.0" y1="190.6" x2="262.0" y2="190.6" stroke="#15538a" stroke-width="1.0"/>
<line x1="258.0" y1="195.2" x2="262.0" y2="195.2" stroke="#15538a" stroke-width="1.0"/>
<path d="M250.5 177.4 V172.3 H261.1 V177.4" fill="none" stroke="#000" stroke-width="1.25" stroke-linejoin="miter" stroke-linecap="butt"/>
<text x="251.0" y="170.2" font-size="6.6" text-anchor="start" font-weight="normal" font-style="normal" fill="#3a3a3a" style="stroke-width:0">n.s.</text>
<line x1="308.8" y1="163.25" x2="308.8" y2="236.2" stroke="#000" stroke-width="1.6"/>
<line x1="305.90000000000003" y1="235.6" x2="361.5" y2="235.6" stroke="#000" stroke-width="1.6"/>
<line x1="305.90000000000003" y1="163.75" x2="308.8" y2="163.75" stroke="#000" stroke-width="1.3"/>
<line x1="305.90000000000003" y1="187.8" x2="308.8" y2="187.8" stroke="#000" stroke-width="1.3"/>
<line x1="305.90000000000003" y1="211.6" x2="308.8" y2="211.6" stroke="#000" stroke-width="1.3"/>
<text x="304.2" y="167.4" font-size="8.0" text-anchor="end" font-weight="normal" font-style="normal" fill="#1a1a1a" >80</text>
<text x="304.2" y="184.8" font-size="8.0" text-anchor="end" font-weight="normal" font-style="normal" fill="#1a1a1a" >60</text>
<text x="304.2" y="202.7" font-size="8.0" text-anchor="end" font-weight="normal" font-style="normal" fill="#1a1a1a" >40</text>
<text x="304.2" y="220.0" font-size="8.0" text-anchor="end" font-weight="normal" font-style="normal" fill="#1a1a1a" >20</text>
<text x="304.2" y="238.4" font-size="8.0" text-anchor="end" font-weight="normal" font-style="normal" fill="#1a1a1a" >0</text>
<line x1="322.25" y1="235.6" x2="322.25" y2="238.4" stroke="#000" stroke-width="1.3"/>
<line x1="350.0" y1="235.6" x2="350.0" y2="238.4" stroke="#000" stroke-width="1.3"/>
<text x="321.6" y="247.6" font-size="7.4" text-anchor="middle" font-weight="normal" font-style="normal" fill="#1a1a1a" >D4</text>
<text x="349.5" y="247.6" font-size="7.4" text-anchor="middle" font-weight="normal" font-style="normal" fill="#1a1a1a" >D7</text>
<text x="334.7" y="257.3" font-size="8.2" text-anchor="middle" textLength="41.6" lengthAdjust="spacingAndGlyphs" fill="#1a1a1a" style="stroke-width:0.36px">Days in culture</text>
<text transform="translate(281.4,197.2) rotate(-90)" x="0" y="0" font-size="8.4" text-anchor="middle" textLength="36.9" lengthAdjust="spacingAndGlyphs" fill="#1a1a1a" style="stroke-width:0.36px" >% Population</text>
<text transform="translate(291.4,198.0) rotate(-90)" x="0" y="0" font-size="8.4" text-anchor="middle" textLength="56.9" lengthAdjust="spacingAndGlyphs" fill="#1a1a1a" style="stroke-width:0.36px" >(Annexin V<tspan font-size="6.4" dy="-1.6">+</tspan><tspan dy="1.6">7-AAD</tspan><tspan font-size="6.4" dy="-1.6">+</tspan><tspan dy="1.6">)</tspan></text>
<circle cx="316.0" cy="220.5" r="1.5" fill="#c8203a"/>
<circle cx="319.5" cy="221.2" r="1.5" fill="#c8203a"/>
<circle cx="315.2" cy="224.0" r="1.5" fill="#c8203a"/>
<circle cx="318.0" cy="224.6" r="1.5" fill="#c8203a"/>
<circle cx="320.3" cy="223.4" r="1.5" fill="#c8203a"/>
<circle cx="317.2" cy="226.2" r="1.5" fill="#c8203a"/>
<line x1="314.40000000000003" y1="223.3" x2="320.8" y2="223.3" stroke="#c8203a" stroke-width="1.0"/>
<line x1="317.6" y1="222.0" x2="317.6" y2="224.6" stroke="#c8203a" stroke-width="1.0"/>
<line x1="315.6" y1="222.0" x2="319.6" y2="222.0" stroke="#c8203a" stroke-width="1.0"/>
<line x1="315.6" y1="224.6" x2="319.6" y2="224.6" stroke="#c8203a" stroke-width="1.0"/>
<rect x="323.70" y="222.50" width="3.0" height="3.0" fill="#15538a"/>
<rect x="328.50" y="222.10" width="3.0" height="3.0" fill="#15538a"/>
<rect x="326.10" y="226.10" width="3.0" height="3.0" fill="#15538a"/>
<rect x="327.50" y="224.50" width="3.0" height="3.0" fill="#15538a"/>
<rect x="324.90" y="223.90" width="3.0" height="3.0" fill="#15538a"/>
<line x1="324.40000000000003" y1="225.4" x2="330.8" y2="225.4" stroke="#15538a" stroke-width="1.0"/>
<line x1="327.6" y1="224.0" x2="327.6" y2="226.8" stroke="#15538a" stroke-width="1.0"/>
<line x1="325.6" y1="224.0" x2="329.6" y2="224.0" stroke="#15538a" stroke-width="1.0"/>
<line x1="325.6" y1="226.8" x2="329.6" y2="226.8" stroke="#15538a" stroke-width="1.0"/>
<path d="M317.2 217.5 V212.6 H327.7 V218.5" fill="none" stroke="#000" stroke-width="1.25" stroke-linejoin="miter" stroke-linecap="butt"/>
<text x="322.0" y="213.0" font-size="6.5" text-anchor="middle" font-weight="normal" font-style="normal" fill="#1a1a1a" >*</text>
<text x="312.8" y="206.5" font-size="7.3" text-anchor="start" font-weight="normal" font-style="normal" fill="#1a1a1a" >p= 0.05</text>
<circle cx="343.0" cy="184.1" r="1.5" fill="#c8203a"/>
<circle cx="346.5" cy="186.9" r="1.5" fill="#c8203a"/>
<circle cx="345.1" cy="188.6" r="1.5" fill="#c8203a"/>
<circle cx="342.25" cy="190.9" r="1.5" fill="#c8203a"/>
<circle cx="346.8" cy="190.9" r="1.5" fill="#c8203a"/>
<circle cx="344.0" cy="194.3" r="1.5" fill="#c8203a"/>
<line x1="341.40000000000003" y1="189.0" x2="347.8" y2="189.0" stroke="#c8203a" stroke-width="1.0"/>
<line x1="344.6" y1="187.0" x2="344.6" y2="191.0" stroke="#c8203a" stroke-width="1.0"/>
<line x1="342.6" y1="187.0" x2="346.6" y2="187.0" stroke="#c8203a" stroke-width="1.0"/>
<line x1="342.6" y1="191.0" x2="346.6" y2="191.0" stroke="#c8203a" stroke-width="1.0"/>
<rect x="352.10" y="178.60" width="3.0" height="3.0" fill="#15538a"/>
<rect x="355.00" y="178.60" width="3.0" height="3.0" fill="#15538a"/>
<rect x="352.70" y="181.50" width="3.0" height="3.0" fill="#15538a"/>
<rect x="351.50" y="187.10" width="3.0" height="3.0" fill="#15538a"/>
<rect x="355.50" y="190.50" width="3.0" height="3.0" fill="#15538a"/>
<rect x="353.25" y="197.90" width="3.0" height="3.0" fill="#15538a"/>
<line x1="352.0" y1="188.6" x2="358.4" y2="188.6" stroke="#15538a" stroke-width="1.0"/>
<line x1="355.2" y1="184.6" x2="355.2" y2="192.6" stroke="#15538a" stroke-width="1.0"/>
<line x1="353.2" y1="184.6" x2="357.2" y2="184.6" stroke="#15538a" stroke-width="1.0"/>
<line x1="353.2" y1="192.6" x2="357.2" y2="192.6" stroke="#15538a" stroke-width="1.0"/>
<path d="M344.7 179.2 V171.8 H355.0 V176.3" fill="none" stroke="#000" stroke-width="1.25" stroke-linejoin="miter" stroke-linecap="butt"/>
<text x="346.0" y="169.6" font-size="6.6" text-anchor="start" font-weight="normal" font-style="normal" fill="#3a3a3a" style="stroke-width:0">n.s.</text>
<circle cx="370.0" cy="195.5" r="1.25" fill="#c8203a"/>
<rect x="368.65" y="205.65" width="2.7" height="2.7" fill="#15538a"/>
<text transform="translate(375.2,197.6) skewX(-4)" font-size="6.8" textLength="23.6" lengthAdjust="spacingAndGlyphs" fill="#1a1a1a" style="stroke-width:0.12px">Arhgef2</text>
<text x="399.20" y="195.30" font-size="4.8" textLength="7.0" lengthAdjust="spacingAndGlyphs" fill="#1a1a1a" style="stroke-width:0.08px">fl/fl</text>
<text x="409.6" y="197.6" font-size="7.0" fill="#1a1a1a" style="stroke-width:0.22px">LSK</text>
<text transform="translate(375.2,208.9) skewX(-4)" font-size="6.8" textLength="23.6" lengthAdjust="spacingAndGlyphs" fill="#1a1a1a" style="stroke-width:0.12px">Arhgef2</text>
<text x="399.20" y="206.40" font-size="4.8" textLength="5.4" lengthAdjust="spacingAndGlyphs" fill="#1a1a1a" style="stroke-width:0.08px">-/-</text>
<text x="410.3" y="208.9" font-size="7.0" fill="#1a1a1a" style="stroke-width:0.22px">LSK</text>
<rect x="0" y="0" width="520" height="264" fill="none" stroke="#000" stroke-width="2.8"/>
</svg>
</body></html>
